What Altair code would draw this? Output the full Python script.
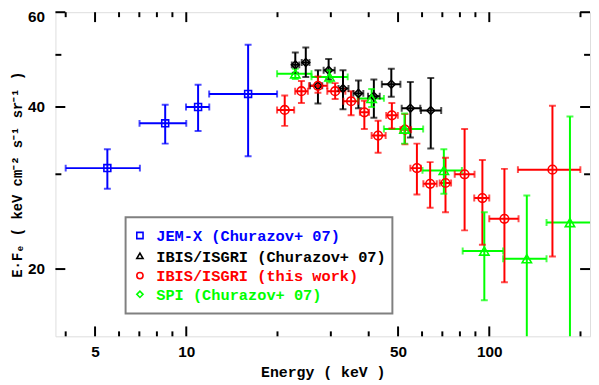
import altair as alt
import pandas as pd

# ---------------- data ----------------
# JEM-X (Churazov+ 07)  - blue squares
jemx_E   = [5.49, 8.52, 10.94, 16.0]
jemx_Elo = [4.00, 7.01, 9.98, 11.9]
jemx_Ehi = [7.03, 10.0, 11.91, 19.94]
jemx_F   = [30.8, 37.3, 40.0, 42.3]
jemx_Flo = [28.2, 34.2, 36.1, 32.4]
jemx_Fhi = [33.4, 40.4, 44.0, 52.2]

# IBIS/ISGRI (Churazov+ 07) - black diamonds
ibc_E   = [22.9, 24.8, 27.2, 29.5, 32.9, 37.0, 41.6, 47.5, 54.9, 64.1]
ibc_Elo = [22.3, 24.05, 25.6, 28.4, 31.8, 35.6, 39.8, 44.2, 51.4, 59.5]
ibc_Ehi = [23.6, 25.5, 28.1, 30.9, 34.3, 38.4, 43.5, 50.9, 59.2, 69.4]
ibc_F   = [47.9, 48.4, 43.8, 46.8, 43.3, 42.4, 41.9, 44.1, 39.8, 39.4]
ibc_Flo = [46.3, 45.5, 40.6, 45.0, 39.6, 39.8, 38.2, 41.8, 35.1, 33.5]
ibc_Fhi = [50.5, 51.6, 46.8, 49.1, 46.8, 44.8, 45.0, 47.1, 44.5, 45.3]

# IBIS/ISGRI (this work) - red circles
ibt_E   = [21.13, 23.99, 27.2, 31.0, 34.99, 38.7, 42.96, 47.7, 52.7, 57.7, 63.8, 71.7, 82.9, 94.9, 112.2, 161.6]
ibt_Elo = [19.94, 22.87, 25.4, 29.2, 33.0, 37.4, 40.9, 45.7, 50.9, 54.9, 60.6, 68.6, 76.9, 89.2, 100.0, 124.3]
ibt_Ehi = [22.7, 25.2, 29.2, 33.5, 36.96, 40.1, 45.5, 49.9, 55.2, 59.5, 67.1, 74.8, 89.4, 100.0, 124.9, 199.8]
ibt_F   = [39.5, 42.8, 43.8, 42.8, 41.0, 39.1, 35.4, 38.6, 36.3, 30.8, 28.8, 28.9, 30.0, 27.1, 24.8, 30.6]
ibt_Flo = [36.9, 40.7, 42.5, 41.4, 38.6, 36.4, 32.9, 36.5, 34.1, 27.5, 26.0, 25.5, 23.6, 22.2, 18.9, 21.1]
ibt_Fhi = [42.0, 44.7, 45.6, 44.3, 42.8, 41.1, 37.7, 40.7, 38.8, 34.2, 31.6, 32.2, 36.4, 31.9, 30.7, 40.2]

# SPI (Churazov+ 07) - green triangles
spi_E   = [22.9, 29.7, 40.9, 52.5, 70.8, 96.3, 133.0, 184.6]
spi_Elo = [19.94, 25.9, 36.8, 44.9, 60.2, 81.7, 111.1, 154.5]
spi_Ehi = [25.9, 34.1, 44.9, 60.5, 81.2, 111.1, 154.5, 230.0]
spi_F   = [46.1, 45.5, 41.5, 36.4, 30.5, 21.6, 20.9, 24.4]
spi_Flo = [45.1, 44.4, 40.0, 34.2, 27.6, 17.5, 12.0, 10.0]
spi_Fhi = [47.1, 46.8, 43.2, 38.9, 33.4, 25.5, 27.4, 38.4]

series_names  = ["JEM-X", "IBIS-C", "IBIS-T", "SPI"]
series_colors = ["#0000ff", "#000000", "#ff0000", "#00ff00"]
series_shapes = ["square", "diamond", "circle", "triangle-up"]
series_sizes  = [49, 90, 80, 64]

legend_labels = ["JEM-X (Churazov+ 07)", "IBIS/ISGRI (Churazov+ 07)",
                 "IBIS/ISGRI (this work)", "SPI (Churazov+ 07)"]
legend_colors = ["#0000ff", "#000000", "#ff0000", "#00ff00"]
legend_shapes = ["square", "triangle-up", "circle", "diamond"]

x_domain = [3.7, 215]
y_domain = [15, 60]
x_labels = [5, 10, 50, 100]
y_labels = [20, 40, 60]
x_major = [5, 10, 50, 100]
x_minor = [4, 6, 7, 8, 9, 20, 30, 40, 60, 70, 80, 90, 200]
y_major = [20, 40, 60]
y_minor = [30, 50]

# ---------------- build ----------------
W, H = 541, 328
TXT_FONT = "Liberation Mono"


def frame(name, E, Elo, Ehi, F, Flo, Fhi):
    return pd.DataFrame({"series": name, "E": E, "Elo": Elo, "Ehi": Ehi,
                         "F": F, "Flo": Flo, "Fhi": Fhi})


df = pd.concat([
    frame("JEM-X", jemx_E, jemx_Elo, jemx_Ehi, jemx_F, jemx_Flo, jemx_Fhi),
    frame("IBIS-C", ibc_E, ibc_Elo, ibc_Ehi, ibc_F, ibc_Flo, ibc_Fhi),
    frame("IBIS-T", ibt_E, ibt_Elo, ibt_Ehi, ibt_F, ibt_Flo, ibt_Fhi),
    frame("SPI", spi_E, spi_Elo, spi_Ehi, spi_F, spi_Flo, spi_Fhi),
], ignore_index=True)

xs = alt.Scale(type="log", domain=x_domain, nice=False)
ys = alt.Scale(type="log", domain=y_domain, nice=False)
col = alt.Color("series:N", scale=alt.Scale(domain=series_names, range=series_colors), legend=None)

x_axis = alt.Axis(values=x_labels, format="d", ticks=False, tickSize=0, domain=False, grid=False,
                  labelFont="Liberation Sans", labelFontWeight="bold", labelFontSize=15.5,
                  labelColor="black", labelPadding=8,
                  title="Energy ( keV )", titleFont=TXT_FONT, titleFontWeight="bold",
                  titleFontSize=15, titleColor="black", titleY=36, titleBaseline="middle")
y_axis = alt.Axis(values=y_labels, format="d", ticks=False, tickSize=0, domain=False, grid=False,
                  labelFont="Liberation Sans", labelFontWeight="bold", labelFontSize=15.5,
                  labelColor="black", labelPadding=11,
                  labelOffset={"condition": {"test": "datum.value >= 59", "value": 4}, "value": 0},
                  title="E·Fₑ ( keV cm⁻² s⁻¹ sr⁻¹ )", titleFont=TXT_FONT,
                  titleFontWeight="bold", titleFontSize=14, titleColor="black",
                  titleX=-38, titleY=H / 2, titleAngle=270, titleBaseline="middle",
                  titleAlign="center")


def X(f):
    return alt.X(f, scale=xs, axis=x_axis)


def Y(f):
    return alt.Y(f, scale=ys, axis=y_axis)


base = alt.Chart(df)

xerr = base.mark_rule(strokeWidth=2, clip=True).encode(
    x=X("Elo:Q"), x2="Ehi:Q", y=Y("F:Q"), color=col)
yerr = base.mark_rule(strokeWidth=2, clip=True).encode(
    x=X("E:Q"), y=Y("Flo:Q"), y2="Fhi:Q", color=col)
cap_lo = base.mark_tick(orient="horizontal", size=7, thickness=2, clip=True).encode(
    x=X("E:Q"), y=Y("Flo:Q"), color=col)
cap_hi = base.mark_tick(orient="horizontal", size=7, thickness=2, clip=True).encode(
    x=X("E:Q"), y=Y("Fhi:Q"), color=col)
cap_l = base.mark_tick(orient="vertical", size=7, thickness=2, clip=True).encode(
    x=X("Elo:Q"), y=Y("F:Q"), color=col)
cap_r = base.mark_tick(orient="vertical", size=7, thickness=2, clip=True).encode(
    x=X("Ehi:Q"), y=Y("F:Q"), color=col)
pts = base.mark_point(filled=False, strokeWidth=1.6, clip=True, opacity=1).encode(
    x=X("E:Q"), y=Y("F:Q"),
    color=col,
    shape=alt.Shape("series:N", scale=alt.Scale(domain=series_names, range=series_shapes), legend=None),
    size=alt.Size("series:N", scale=alt.Scale(domain=series_names, range=series_sizes), legend=None))


def xticks(vals, length, top):
    d = pd.DataFrame({"v": vals})
    if top:
        yy, yy2 = alt.value(0), alt.value(length)
    else:
        yy, yy2 = alt.value(H), alt.value(H - length)
    return alt.Chart(d).mark_rule(color="black", strokeWidth=2).encode(
        x=X("v:Q"), y=yy, y2=yy2)


def yticks(vals, length, right):
    d = pd.DataFrame({"v": vals})
    if right:
        xx, xx2 = alt.value(W), alt.value(W - length)
    else:
        xx, xx2 = alt.value(0), alt.value(length)
    return alt.Chart(d).mark_rule(color="black", strokeWidth=2).encode(
        y=Y("v:Q"), x=xx, x2=xx2)


tick_layers = [
    xticks(x_major, 10, False), xticks(x_minor, 5, False),
    xticks(x_major, 10, True), xticks(x_minor, 5, True),
    yticks(y_major, 10, False), yticks(y_minor, 6, False),
    yticks(y_major, 10, True), yticks(y_minor, 6, True),
]

one = pd.DataFrame({"a": [0]})
legend_box = alt.Chart(one).mark_rect(fill="white", stroke="#808080", strokeWidth=2).encode(
    x=alt.value(71), x2=alt.value(341), y=alt.value(207.5), y2=alt.value(305))
legend_rows = [226, 246.5, 266.5, 285.5]
legend_layers = [legend_box]
for lab, c, shp, ry in zip(legend_labels, legend_colors, legend_shapes, legend_rows):
    legend_layers.append(alt.Chart(one).mark_point(shape=shp, filled=False, strokeWidth=1.6,
                                                   size=40, color=c, opacity=1).encode(
        x=alt.value(85.5), y=alt.value(ry)))
    legend_layers.append(alt.Chart(one).mark_text(align="left", baseline="middle",
                                                  font=TXT_FONT, fontWeight="bold",
                                                  fontSize=15.5, color=c).encode(
        x=alt.value(102), y=alt.value(ry + 1), text=alt.value(lab)))

chart = alt.layer(
    xerr, yerr, cap_lo, cap_hi, cap_l, cap_r, pts, *tick_layers, *legend_layers
).properties(
    width=W, height=H,
    autosize=alt.AutoSizeParams(type="none"),
    padding={"left": 48, "top": 2, "right": 1, "bottom": 47},
).configure_view(stroke="black", strokeWidth=2).configure(background="white")

chart.save("out.html", embed_options={"renderer": "svg", "actions": False})
